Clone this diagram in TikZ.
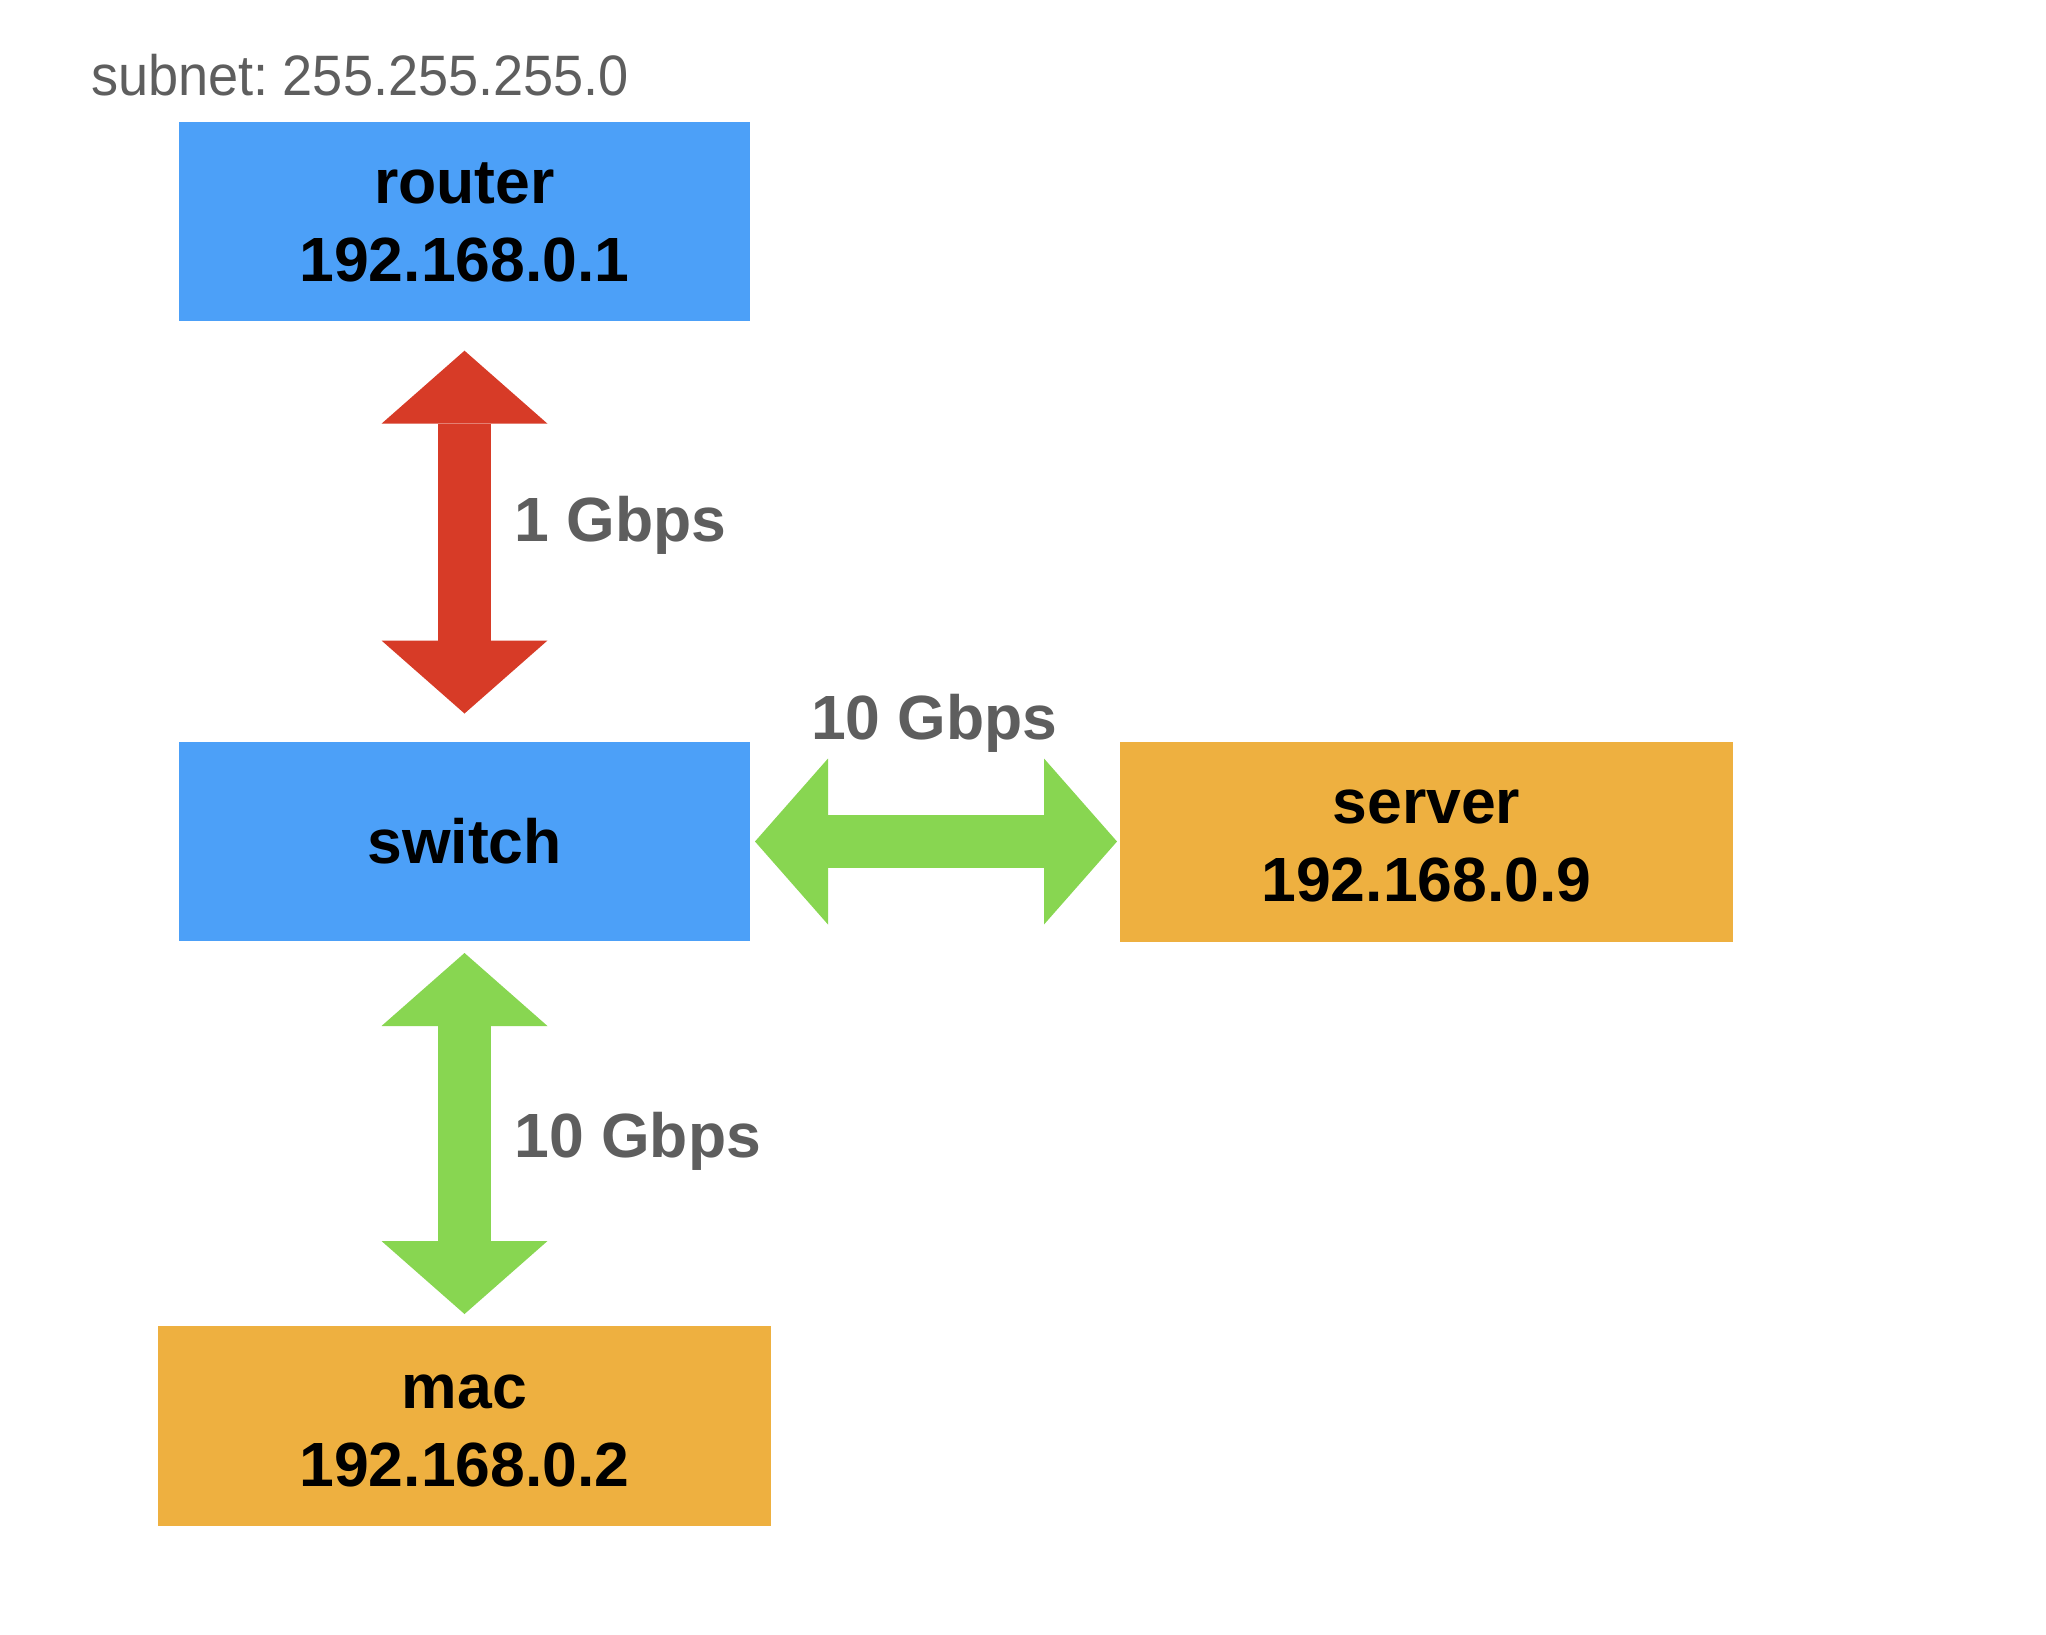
\documentclass[tikz,border=0pt]{standalone}
\usepackage{fontspec}
\setmainfont{Liberation Sans}
\newfontfamily\subnetfont[FakeStretch=0.95, WordSpace=0.6]{Liberation Sans}
\usepackage{tikz}
\usetikzlibrary{positioning, arrows.meta}

\definecolor{hostblue}{HTML}{4CA0F8}
\definecolor{hostorange}{HTML}{EEB040}
\definecolor{linkred}{HTML}{D73B27}
\definecolor{linkgreen}{HTML}{88D651}
\definecolor{labelgray}{HTML}{5E5E5E}

\newcommand{\hostfont}{\fontsize{62.5}{78}\selectfont\bfseries}

\tikzset{
  Fat/.tip={Triangle[length=73pt,width=166pt,line width=0pt]},
  host/.style={rectangle, draw=none, inner sep=0pt, outer sep=0pt,
    minimum width=571pt, minimum height=199pt, align=center, font=\hostfont},
  widehost/.style={host, minimum width=613pt, minimum height=200pt},
  link/.style={line width=52.5pt, Fat-Fat},
  gbps/.style={inner sep=0pt, outer sep=0pt, text=labelgray, font=\hostfont}
}

\begin{document}
\begin{tikzpicture}
\path[use as bounding box, fill=white] (0pt,0pt) rectangle (2046pt,-1634pt);

\node[host, fill=hostblue] (router) at (464.5pt,-221.5pt) {\vphantom{1}router\\192.168.0.1};
\node[host, fill=hostblue, below=421pt of router] (switch) {\vphantom{1}switch};
\node[widehost, fill=hostorange, right=370pt of switch] (server) {\vphantom{1}server\\192.168.0.9};
\node[widehost, fill=hostorange, below=385pt of switch] (mac) {\vphantom{1}mac\\192.168.0.2};

\node[anchor=base west, inner sep=0pt, text=labelgray, font={\fontsize{57}{68}\selectfont\subnetfont}]
  (subnet) at ([xshift=-88pt, yshift=27pt]router.north west) {subnet: 255.255.255.0};

% links
\draw[link, linkred, shorten <=29.7pt, shorten >=28.5pt] (router.south) -- (switch.north)
  node[gbps, pos=.5, anchor=base west, xshift=50pt, yshift=-9.5pt] (uplink) {1 Gbps};
\draw[link, linkgreen, shorten <=5pt, shorten >=3pt] (switch.east) -- (server.west)
  node[gbps, pos=.5, anchor=base, xshift=-0.7pt, yshift=102.2pt] (serverlink) {10 Gbps};
\draw[link, linkgreen, shorten <=12pt, shorten >=12pt] (switch.south) -- (mac.north)
  node[gbps, pos=.5, anchor=base west, xshift=50pt, yshift=-24pt] (maclink) {10 Gbps};
\end{tikzpicture}
\end{document}
